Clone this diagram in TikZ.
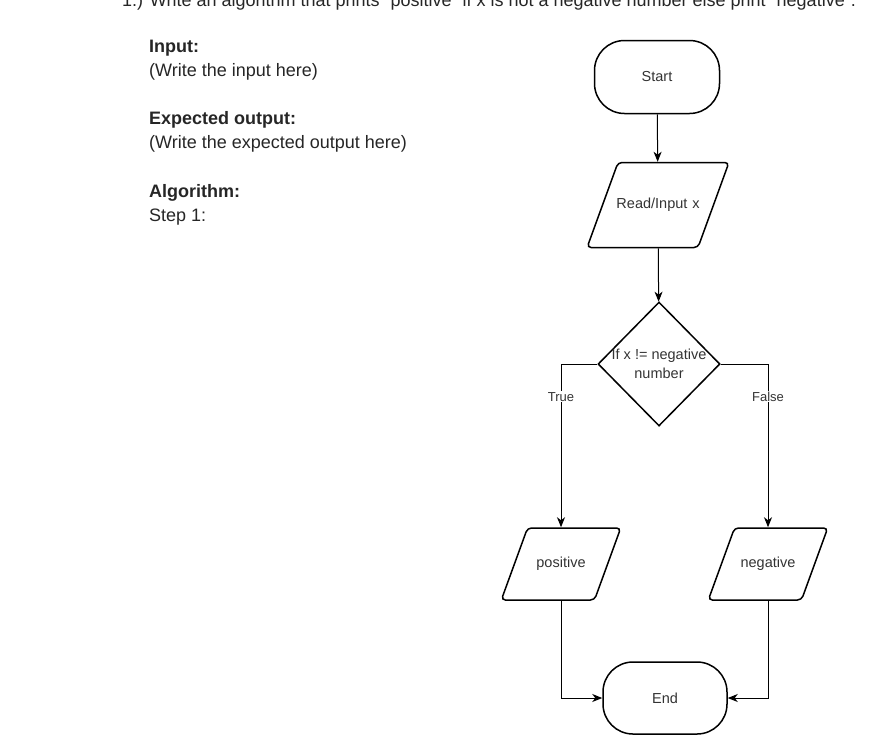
\documentclass[tikz,border=0pt]{standalone}
\usepackage{fontspec}
\setmainfont{Liberation Sans}
\usetikzlibrary{shapes.geometric,arrows.meta}

\begin{document}
\begin{tikzpicture}[x=1pt,y=-1pt,
      every node/.style={font=\fontsize{14.5}{19}\selectfont, text=black!80},
      terminal/.style={draw, line width=1.5pt, rectangle, rounded corners=30pt,
         minimum width=125pt, minimum height=73pt},
      io/.style={draw, line width=1.5pt, trapezium, trapezium left angle=70,
         trapezium right angle=110, rounded corners=4pt, align=center,
         inner xsep=0pt, text height=10pt, text depth=3pt},
      decision/.style={draw, line width=1.5pt, diamond, align=center,
         minimum width=122pt, minimum height=124pt, inner sep=0pt},
      flow/.style={line width=1pt, -{Stealth[length=10pt,width=8pt,inset=3pt]}},
      branch/.style={font=\fontsize{13}{15}\selectfont, fill=white, inner sep=1pt},
      note/.style={font=\fontsize{18}{21}\selectfont, text=black!85,
         anchor=base west, inner sep=0pt}]
   \useasboundingbox (0,0) rectangle (885,753);
   \clip (0,0) rectangle (885,753);
   % the question, cut off at the top
   \node[note] (task) at (122,6)
      {1.) Write an algorithm that prints "positive" if x is not a negative number else print "negative".};
   % left hand text
   \node[note, font=\fontsize{18}{21}\bfseries] (input) at (149,52) {Input:};
   \node[note] (inputtxt) at (149,76) {(Write the input here)};
   \node[note, font=\fontsize{18}{21}\bfseries] (output) at (149,124) {Expected output:};
   \node[note] (outputtxt) at (149,148) {(Write the expected output here)};
   \node[note, font=\fontsize{18}{21}\bfseries] (algo) at (149,197) {Algorithm:};
   \node[note] (step) at (149,221) {Step 1:};
   % flowchart
   \node[terminal] (start) at (657,77) {Start};
   \node[io, text width=80pt, inner ysep=36pt] (read) at (658,205) {\makebox[80pt]{Read/Input x}};
   \node[decision] (cond) at (659,364) {\makebox[0pt]{If x != negative}\\number};
   \node[io, text width=67pt, inner ysep=29.5pt] (pos) at (561,564) {positive};
   \node[io, text width=67pt, inner ysep=29.5pt] (neg) at (768,564) {negative};
   \node[terminal, minimum width=124pt, minimum height=72pt] (end) at (665,698) {End};
   \draw[flow] (start) -- (read);
   \draw[flow] (read) -- (cond);
   \draw[flow] (cond.west) -| node[branch, pos=0.6] {True} (pos.north);
   \draw[flow] (cond.east) -| node[branch, pos=0.6] {False} (neg.north);
   \draw[flow] (pos.south) |- (end.west);
   \draw[flow] (neg.south) |- (end.east);
\end{tikzpicture}
\end{document}
